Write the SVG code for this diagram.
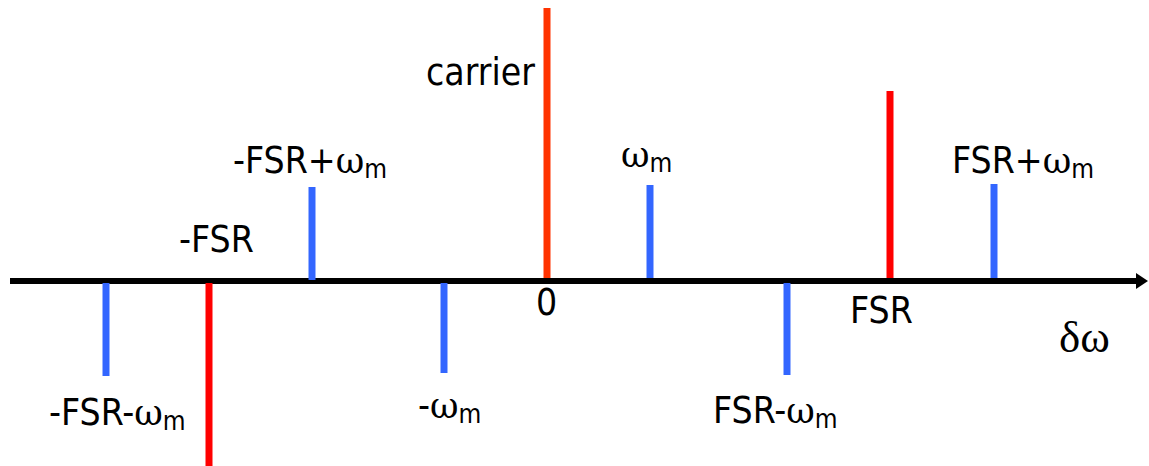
<svg xmlns="http://www.w3.org/2000/svg" width="1149" height="466" viewBox="0 0 1149 466">
<style>
.t{font-family:"DejaVu Sans Condensed","DejaVu Sans",sans-serif;font-stretch:condensed;font-size:37px;fill:#000}
.w{font-family:"DejaVu Serif","Liberation Serif",serif;font-stretch:normal;font-size:35px}
.d{font-family:"Liberation Serif",serif;font-stretch:normal;font-size:45px}
.s{font-size:26px}
.b{stroke:#3366ff;stroke-width:7}
.r{stroke:#ff0000;stroke-width:7}
.c{stroke:#ff3300;stroke-width:7}
</style>
<rect width="1149" height="466" fill="#fff"/>
<g id="axis">
<line x1="10" y1="281" x2="1138" y2="281" stroke="#000" stroke-width="6"/>
<polygon points="1136,273 1148,281 1136,289" fill="#000"/>
</g>
<g id="lines">
<line class="b" x1="106" y1="283" x2="106" y2="376"/>
<line class="r" x1="209" y1="283" x2="209" y2="466"/>
<line class="b" x1="312" y1="187" x2="312" y2="280"/>
<line class="b" x1="444" y1="283" x2="444" y2="373"/>
<line class="c" x1="547" y1="8" x2="547" y2="278"/>
<line class="b" x1="650" y1="185" x2="650" y2="278"/>
<line class="b" x1="787" y1="283" x2="787" y2="375"/>
<line class="r" x1="890" y1="91" x2="890" y2="278"/>
<line class="b" x1="994" y1="184" x2="994" y2="278"/>
</g>
<g id="labels">
<text class="t" x="49" y="425">-FSR-<tspan class="w">ω</tspan><tspan class="s" dy="5">m</tspan></text>
<text class="t" x="179" y="252">-FSR</text>
<text class="t" x="233" y="173">-FSR+<tspan class="w">ω</tspan><tspan class="s" dy="5">m</tspan></text>
<text class="t" x="426" y="85">carrier</text>
<text class="t" x="621" y="167"><tspan class="w">ω</tspan><tspan class="s" dy="5">m</tspan></text>
<text class="t" x="536" y="315">0</text>
<text class="t" x="418" y="418">-<tspan class="w">ω</tspan><tspan class="s" dy="5">m</tspan></text>
<text class="t" x="850" y="323">FSR</text>
<text class="t" x="952" y="173">FSR+<tspan class="w">ω</tspan><tspan class="s" dy="5">m</tspan></text>
<text class="t" x="713" y="423">FSR-<tspan class="w">ω</tspan><tspan class="s" dy="5">m</tspan></text>
<text class="t d" x="1059" y="352">δω</text>
</g>
</svg>
